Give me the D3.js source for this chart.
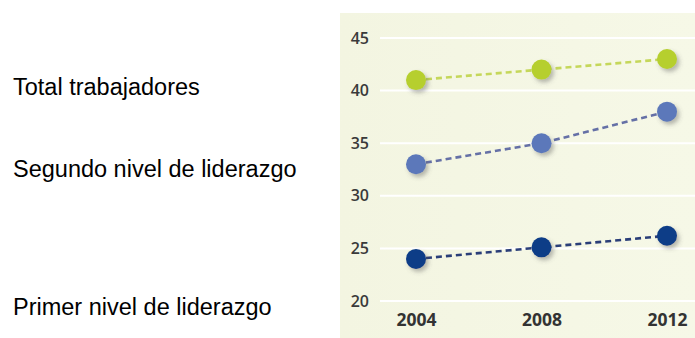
<!DOCTYPE html>
<html>
<head>
<meta charset="utf-8">
<script src="https://cdn.jsdelivr.net/npm/d3@7/dist/d3.min.js"></script>
<style>
  html, body { margin: 0; padding: 0; background: #ffffff; }
  svg { display: block; }
</style>
</head>
<body>
<svg id="chart" width="695" height="338"></svg>
<script>
// Share of each group over time
const years = [2004, 2008, 2012];
const seriesNames = ["Total trabajadores", "Segundo nivel de liderazgo", "Primer nivel de liderazgo"];
const totalValues = [41, 42, 43];
const segundoValues = [33, 35, 38];
const primerValues = [24, 25.1, 26.2];
const yTicks = [20, 25, 30, 35, 40, 45];

const series = [
  { name: seriesNames[0], values: totalValues, dot: "#b6cf2e", line: "#c5d75a", labelY: 95 },
  { name: seriesNames[1], values: segundoValues, dot: "#5b78ba", line: "#6570a6", labelY: 177 },
  { name: seriesNames[2], values: primerValues, dot: "#0b3d87", line: "#2a3e78", labelY: 315 }
];

const svg = d3.select("#chart");

// Soft drop shadow for the markers
const defs = svg.append("defs");
const shadow = defs.append("filter").attr("id", "dotShadow")
  .attr("x", "-50%").attr("y", "-50%").attr("width", "200%").attr("height", "200%");
shadow.append("feDropShadow")
  .attr("dx", 2.5).attr("dy", 3).attr("stdDeviation", 2.2)
  .attr("flood-color", "#555").attr("flood-opacity", 0.4);

const panelGrad = defs.append("linearGradient").attr("id", "panelGrad")
  .attr("x1", 0).attr("y1", 0).attr("x2", 1).attr("y2", 0);
panelGrad.append("stop").attr("offset", "0%").attr("stop-color", "#f3f5e1");
panelGrad.append("stop").attr("offset", "100%").attr("stop-color", "#f6f8e7");

// Chart panel
svg.append("rect")
  .attr("x", 340).attr("y", 13).attr("width", 355).attr("height", 325)
  .attr("fill", "url(#panelGrad)");

const x = d3.scalePoint().domain(years).range([416, 667]);
const y = d3.scaleLinear().domain([20, 45]).range([301, 38]);

// Horizontal gridlines
svg.append("g")
  .selectAll("line")
  .data(yTicks)
  .join("line")
  .attr("x1", 380).attr("x2", 695)
  .attr("y1", d => y(d)).attr("y2", d => y(d))
  .attr("stroke", "#ffffff").attr("stroke-width", 2);

// Y axis labels
const yAxis = d3.axisLeft(y).tickValues(yTicks).tickSize(0).tickPadding(0);
const yg = svg.append("g").attr("transform", "translate(369,0)").call(yAxis);
yg.select(".domain").remove();
yg.selectAll("text")
  .attr("font-family", "'Open Sans', sans-serif")
  .attr("font-size", 16).attr("font-weight", 600)
  .attr("fill", "#3a3a3a");

// X axis labels
const xAxis = d3.axisBottom(x).tickSize(0).tickPadding(0).tickFormat(d3.format("d"));
const xg = svg.append("g").attr("transform", "translate(0,314)").call(xAxis);
xg.select(".domain").remove();
xg.selectAll("text")
  .attr("font-family", "'Open Sans', sans-serif")
  .attr("font-size", 17.5).attr("font-weight", 700)
  .attr("fill", "#333333");

// Dashed connecting lines
const line = d3.line().x((d, i) => x(years[i])).y(d => y(d));
svg.append("g")
  .selectAll("path")
  .data(series)
  .join("path")
  .attr("d", s => line(s.values))
  .attr("fill", "none")
  .attr("stroke", s => s.line)
  .attr("stroke-width", 2.6)
  .attr("stroke-dasharray", "6 4");

// Markers
svg.append("g")
  .selectAll("g")
  .data(series)
  .join("g")
  .selectAll("circle")
  .data(s => s.values.map((v, i) => ({ v, year: years[i], color: s.dot })))
  .join("circle")
  .attr("cx", d => x(d.year))
  .attr("cy", d => y(d.v))
  .attr("r", 10)
  .attr("fill", d => d.color)
  .attr("filter", "url(#dotShadow)");

// Series names on the left
svg.append("g")
  .selectAll("text")
  .data(series)
  .join("text")
  .attr("x", 13)
  .attr("y", s => s.labelY)
  .attr("font-family", "'Liberation Sans', Arial, sans-serif")
  .attr("font-size", 23.5)
  .attr("fill", "#000000")
  .text(s => s.name);
</script>
</body>
</html>
